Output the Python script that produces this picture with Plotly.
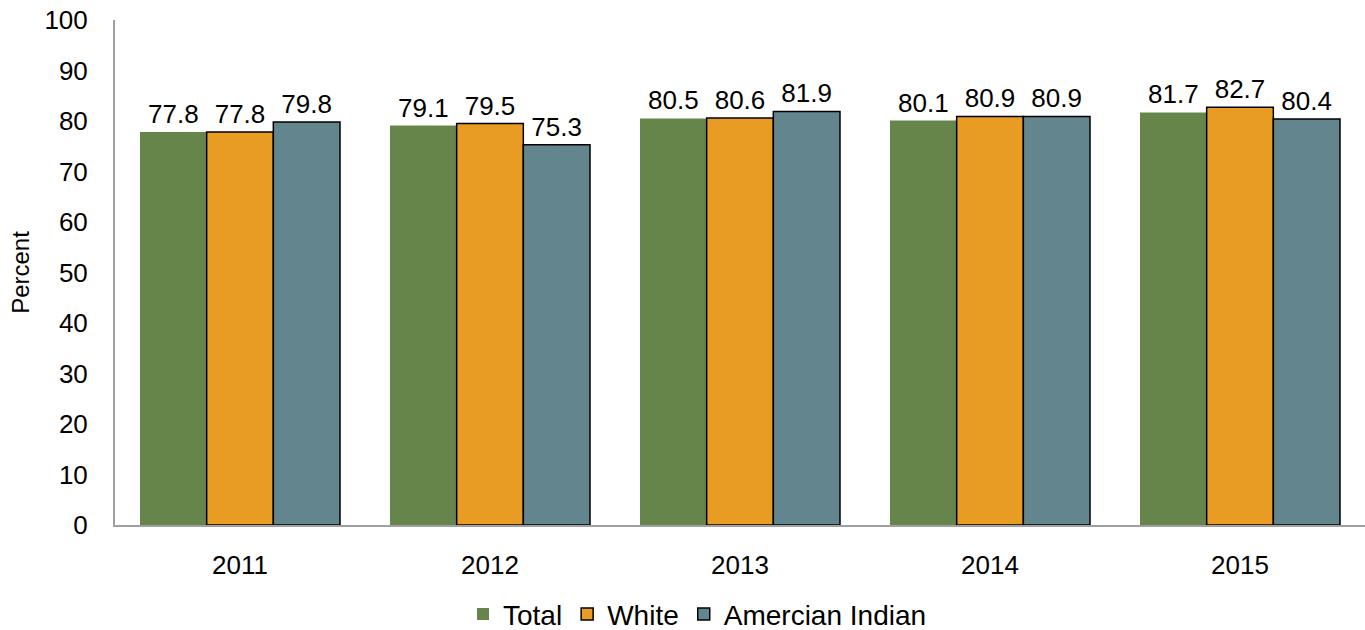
import plotly.graph_objects as go

years = ["2011", "2012", "2013", "2014", "2015"]
total = [77.8, 79.1, 80.5, 80.1, 81.7]
white = [77.8, 79.5, 80.6, 80.9, 82.7]
amer_indian = [79.8, 75.3, 81.9, 80.9, 80.4]
y_ticks = [0, 10, 20, 30, 40, 50, 60, 70, 80, 90, 100]

series = [
    ("Total", total, "#66854A", 0),
    ("White", white, "#E99C23", 1.5),
    ("Amercian Indian", amer_indian, "#62858E", 1.5),
]

fig = go.Figure()
for name, vals, color, lw in series:
    fig.add_trace(go.Bar(
        x=years, y=vals, name=name,
        marker=dict(color=color, line=dict(color="black", width=lw)),
        text=[f"{v:.1f}" for v in vals], textposition="outside",
        textfont=dict(size=26, color="black"),
        cliponaxis=False,
    ))

fig.update_layout(
    width=1365, height=630,
    margin=dict(l=115, r=0, t=20, b=105),
    paper_bgcolor="white", plot_bgcolor="white",
    barmode="group", bargap=0.2, bargroupgap=0,
    font=dict(family="Liberation Sans, Arial, sans-serif", color="black"),
    xaxis=dict(showline=True, linecolor="#A0A0A0", linewidth=2, ticks="",
               tickfont=dict(size=26), showgrid=False, ticklabelstandoff=16),
    yaxis=dict(range=[0, 100], tickvals=y_ticks, showline=True, linecolor="#A0A0A0",
               linewidth=2, showgrid=False, zeroline=False, tickfont=dict(size=26),
               ticklabelstandoff=20,
               title=dict(text="Percent", font=dict(size=24), standoff=8), ticks="", ticklen=0),
    legend=dict(orientation="h", x=0.466, xanchor="center", yref="container",
                y=0.025, yanchor="middle",
                font=dict(size=28), itemwidth=30, traceorder="normal",
                tracegroupgap=0),
    uniformtext=dict(mode=False),
)

fig.write_html("out.html")
